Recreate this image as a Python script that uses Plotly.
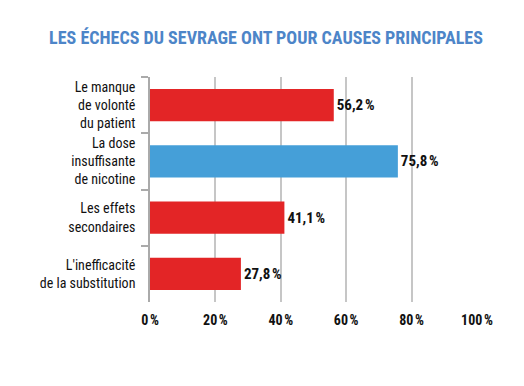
import plotly.graph_objects as go

title = "LES ÉCHECS DU SEVRAGE ONT POUR CAUSES PRINCIPALES"
categories = [
    "Le manque<br>de volonté<br>du patient",
    "La dose<br>insuffisante<br>de nicotine",
    "Les effets<br>secondaires",
    "L'inefficacité<br>de la substitution",
]
values = [56.2, 75.8, 41.1, 27.8]
bar_colors = ["#e32526", "#459fd8", "#e32526", "#e32526"]
x_tickvals = [0, 20, 40, 60, 80, 100]
x_ticktext = ["0\u202f%", "20\u202f%", "40\u202f%", "60\u202f%", "80\u202f%", "100\u202f%"]

value_text = [f"{v:.1f}".replace(".", ",") + "\u202f%" for v in values]

FONT = "Liberation Sans Narrow, Roboto Condensed, DejaVu Sans Condensed, Arial Narrow, sans-serif"

# the page adds an 8px body margin; compensate in the layout margins
OFF = 8

fig = go.Figure(
    go.Bar(
        x=values,
        y=categories,
        orientation="h",
        marker=dict(color=bar_colors, line=dict(width=0)),
        width=0.57,
        text=value_text,
        textposition="outside",
        textfont=dict(family=FONT, size=15, color="#111111", weight="bold"),
        cliponaxis=False,
        hoverinfo="skip",
    )
)

fig.update_layout(
    width=524,
    height=386,
    margin=dict(l=150 - OFF, r=47 + OFF, t=77 - OFF, b=84 + OFF),
    paper_bgcolor="white",
    plot_bgcolor="white",
    showlegend=False,
    title=dict(
        text=f"<b>{title}</b>",
        x=(266 - OFF) / 524,
        xanchor="center",
        y=1 - (38 - OFF) / 386,
        yanchor="middle",
        font=dict(family=FONT, size=18, color="#4d85c8"),
    ),
    font=dict(family=FONT),
)

fig.update_xaxes(
    range=[0, 100],
    tickvals=x_tickvals,
    ticktext=x_ticktext,
    showgrid=True,
    gridcolor="#c6c6c6",
    gridwidth=1.5,
    zeroline=False,
    showline=False,
    ticks="",
    ticklabelstandoff=8,
    tickfont=dict(family=FONT, size=14, color="#111111", weight="bold"),
    automargin=False,
    fixedrange=True,
)

fig.update_yaxes(
    categoryorder="array",
    categoryarray=categories,
    autorange="reversed",
    showgrid=False,
    showline=True,
    linecolor="#aaaaaa",
    linewidth=1.5,
    ticks="outside",
    tickson="boundaries",
    ticklen=7,
    tickcolor="#aaaaaa",
    tickwidth=1.5,
    ticklabelstandoff=10,
    tickfont=dict(family=FONT, size=14, color="#111111"),
    automargin=False,
    fixedrange=True,
)

fig.write_html("out.html")
